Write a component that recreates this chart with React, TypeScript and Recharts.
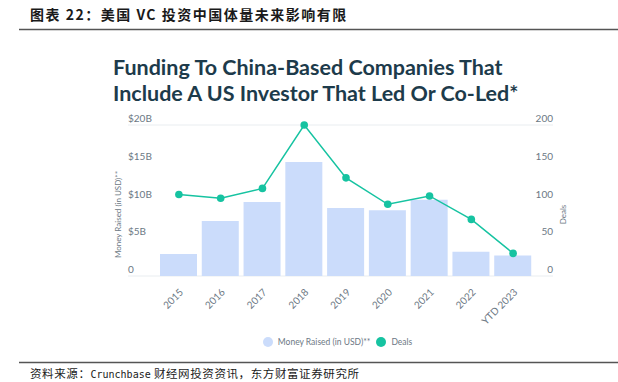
import React from 'react'
import { ComposedChart, Bar, Line, XAxis, YAxis, CartesianGrid, Legend, Label } from 'recharts'

const years = ['2015', '2016', '2017', '2018', '2019', '2020', '2021', '2022', 'YTD 2023']
const moneyRaised = [2.9, 7.3, 9.8, 15.1, 9.0, 8.7, 10.1, 3.2, 2.7]
const deals = [108, 103, 116, 200, 130, 95, 106, 75, 30]
const moneyTicks = [0, 5, 10, 15, 20]
const dealTicks = [0, 50, 100, 150, 200]

const BAR_COLOR = '#cbdcfb'
const LINE_COLOR = '#16c3a1'
const TICK_COLOR = '#6c7884'
const FONT = 'Lato, "Open Sans", sans-serif'

const data = years.map((year, i) => ({ year, money: moneyRaised[i], deals: deals[i] }))

const MoneyTick = ({ x, y, payload }: any) => (
  <text x={x} y={y - 3} textAnchor="start" fontSize={10} fill={TICK_COLOR} fontFamily={FONT}>
    {payload.value === 0 ? '0' : `$${payload.value}B`}
  </text>
)

const DealsTick = ({ x, y, payload }: any) => (
  <text x={x} y={y - 3} textAnchor="end" fontSize={10} fill={TICK_COLOR} fontFamily={FONT}>
    {payload.value}
  </text>
)

const YearTick = ({ x, y, payload }: any) => (
  <text
    x={x + 5}
    y={y + 9}
    textAnchor="end"
    fontSize={10}
    fill={TICK_COLOR}
    fontFamily={FONT}
    transform={`rotate(-45, ${x + 5}, ${y + 9})`}
  >
    {payload.value}
  </text>
)

const renderLegend = () => (
  <div
    style={{
      display: 'flex',
      justifyContent: 'center',
      alignItems: 'center',
      height: 20,
      fontFamily: FONT,
      fontSize: 8.5,
      color: '#6c7884',
      paddingRight: 6,
    }}
  >
    <span style={{ width: 10, height: 10, borderRadius: 5, background: BAR_COLOR, marginRight: 5 }} />
    <span style={{ marginRight: 6 }}>Money Raised (in USD)**</span>
    <span style={{ width: 10, height: 10, borderRadius: 5, background: LINE_COLOR, marginRight: 5 }} />
    <span>Deals</span>
  </div>
)

const axisTitle = (text: string) => ({ viewBox }: any) => {
  const cx = viewBox.x + viewBox.width / 2
  const cy = viewBox.y + viewBox.height / 2 + 14
  return (
    <text
      x={cx}
      y={cy}
      textAnchor="middle"
      dominantBaseline="central"
      fontSize={8}
      fill={TICK_COLOR}
      fontFamily={FONT}
      transform={`rotate(-90, ${cx}, ${cy})`}
    >
      {text}
    </text>
  )
}

export default function App() {
  return (
    <div style={{ position: 'absolute', left: 0, top: 0, width: 618, height: 382, background: '#fff', overflow: 'hidden' }}>
      <svg width={618} height={382} style={{ position: 'absolute', left: 0, top: 0 }}>
        <text x={30} y={20} fontSize={14} fontWeight={700} fill="#1a1a1a" fontFamily='"Noto Sans CJK SC", sans-serif' letterSpacing={1.5}>
          图表 22：美国 VC 投资中国体量未来影响有限
        </text>
        <line x1={19} y1={29.5} x2={618} y2={29.5} stroke="#555" strokeWidth={1.5} />
        <text x={113} y={75} fontSize={21.5} fontWeight={700} fill="#1d3b4b" fontFamily={FONT}>
          Funding To China-Based Companies That
        </text>
        <text x={113} y={101} fontSize={21.5} fontWeight={700} fill="#1d3b4b" fontFamily={FONT}>
          Include A US Investor That Led Or Co-Led*
        </text>
        <line x1={19} y1={362.5} x2={618} y2={362.5} stroke="#555" strokeWidth={1.5} />
        <text x={30} y={378} fontSize={11.5} fill="#1a1a1a" fontFamily='"Noto Sans CJK SC", sans-serif' letterSpacing={0.6}>
          资料来源：<tspan fontFamily='"DejaVu Sans Mono", monospace' fontSize={10} letterSpacing={0}>Crunchbase</tspan> 财经网投资资讯，东方财富证券研究所
        </text>
      </svg>
      <div style={{ position: 'absolute', left: 0, top: 0 }}>
        <ComposedChart width={618} height={382} data={data} margin={{ top: 125, right: 45, bottom: 30, left: 108 }}>
          <CartesianGrid vertical={false} stroke="#e9edf0" />
          <XAxis
            dataKey="year"
            height={56}
            interval={0}
            axisLine={false}
            tickLine={false}
            tick={<YearTick />}
            padding={{ left: 30, right: 19 }}
          />
          <YAxis
            yAxisId="money"
            width={20}
            domain={[0, 20]}
            ticks={moneyTicks}
            axisLine={false}
            tickLine={false}
            tickSize={0}
            tickMargin={0}
            tick={<MoneyTick />}
          >
            <Label content={axisTitle('Money Raised (in USD)**')} />
          </YAxis>
          <YAxis
            yAxisId="deals"
            orientation="right"
            width={20}
            domain={[0, 200]}
            ticks={dealTicks}
            axisLine={false}
            tickLine={false}
            tickSize={0}
            tickMargin={0}
            tick={<DealsTick />}
          >
            <Label content={axisTitle('Deals')} />
          </YAxis>
          <Legend verticalAlign="bottom" content={renderLegend} />
          <Bar yAxisId="money" dataKey="money" name="Money Raised (in USD)**" fill={BAR_COLOR} barSize={37} isAnimationActive={false} />
          <Line
            yAxisId="deals"
            dataKey="deals"
            name="Deals"
            stroke={LINE_COLOR}
            strokeWidth={1.5}
            dot={{ r: 3.8, fill: LINE_COLOR, stroke: LINE_COLOR, strokeWidth: 0 }}
            isAnimationActive={false}
          />
        </ComposedChart>
      </div>
    </div>
  )
}
